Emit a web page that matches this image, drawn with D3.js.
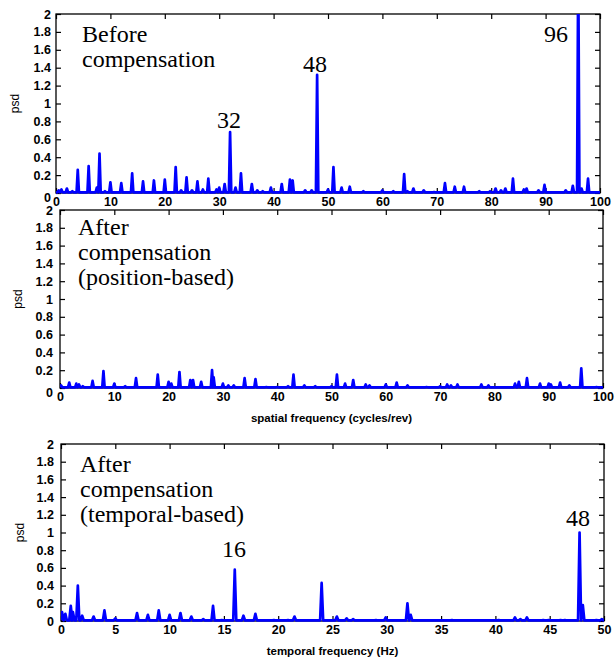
<!DOCTYPE html>
<html><head><meta charset="utf-8">
<script src="https://cdn.jsdelivr.net/npm/d3@7"></script>
<style>body{margin:0;background:#fff} svg{display:block}</style>
</head><body><svg id="c" width="615" height="660"></svg>
<script>
// ---------- data ----------
const yTicks = [0, 0.2, 0.4, 0.6, 0.8, 1, 1.2, 1.4, 1.6, 1.8, 2];
const spatialTicks = [0, 10, 20, 30, 40, 50, 60, 70, 80, 90, 100];
const temporalTicks = [0, 5, 10, 15, 20, 25, 30, 35, 40, 45, 50];
const baseLevel = 0.008;

const beforeFreq = [0.5,1,2,3,4,6,7.5,8,9,10,12,14,16,18,20,22,23,24,25,26,27,28,29.5,30,31,32,33,34,36,37,38,39.5,41.5,43,43.5,45.8,47,48,50,51,52.5,54,56.5,60,62,64,64.6,65.7,67.6,69.5,71.5,73.3,75,77.8,79.8,80.8,81.8,82.6,84,86,86.5,88.7,89.8,93.7,95,96,96.6,97.8];
const beforePsd  = [0.03,0.04,0.05,0.02,0.26,0.30,0.06,0.44,0.02,0.12,0.11,0.22,0.13,0.14,0.15,0.29,0.03,0.175,0.03,0.13,0.04,0.16,0.04,0.06,0.10,0.68,0.06,0.22,0.10,0.03,0.02,0.06,0.10,0.15,0.14,0.03,0.03,1.32,0.04,0.29,0.06,0.07,0.02,0.03,0.02,0.21,0.02,0.05,0.03,0.01,0.11,0.07,0.07,0.02,0.02,0.05,0.03,0.05,0.16,0.04,0.05,0.03,0.09,0.03,0.08,2.6,0.05,0.16];

const positionFreq = [0.2,1.7,3,3.5,4.2,6,8,10,12,14,18,20,20.5,22,24,24.5,26,28,28.3,30,31,32,34,36,38,40,42,43,45,47,50,51,52.5,54,56.3,57,60,62,64,67.5,70,71.3,72,73.2,77.6,78.9,83.8,84.5,86,88.4,90,90.4,92.1,93.8,96,98.8];
const positionPsd  = [0.03,0.06,0.05,0.04,0.02,0.08,0.19,0.05,0.02,0.11,0.15,0.07,0.05,0.18,0.09,0.09,0.07,0.20,0.12,0.05,0.03,0.03,0.11,0.10,0.01,0.01,0.02,0.15,0.03,0.02,0.02,0.15,0.05,0.09,0.04,0.03,0.04,0.06,0.03,0.01,0.02,0.04,0.03,0.04,0.04,0.03,0.05,0.07,0.11,0.05,0.05,0.04,0.06,0.03,0.22,0.01];

const temporalFreq = [0.1,0.4,0.9,1.1,1.55,1.95,3,4,5,7,8,9,10,11,12,13.1,14,14.8,16,16.8,17.9,19.6,20.9,21.5,24,25.4,26.3,26.9,29,29.9,31.9,32.2,36,40.3,41.8,42.3,42.9,44.4,44.9,46,46.4,47.75,48.05,49.3,49.8];
const temporalPsd  = [0.10,0.08,0.17,0.10,0.40,0.06,0.05,0.12,0.03,0.09,0.07,0.12,0.07,0.09,0.05,0.02,0.17,0.01,0.58,0.06,0.08,0.01,0.01,0.05,0.43,0.05,0.03,0.02,0.01,0.04,0.20,0.07,0.01,0.01,0.04,0.02,0.04,0.01,0.01,0.01,0.01,1.0,0.18,0.01,0.02];

// ---------- layout ----------
const panels = [
  {x0:56, x1:600, top:14, bottom:193, xmax:100, xticks:spatialTicks, freq:beforeFreq, psd:beforePsd, w:0.22,
   ypad:5, zeroShift:4, psdX:15, title:null,
   notes:[{t:"Before", x:82, y:42}, {t:"compensation", x:82, y:67},
          {t:"32", x:229, y:128, a:"middle"}, {t:"48", x:315, y:72, a:"middle"}, {t:"96", x:556, y:42, a:"middle"}]},
  {x0:60, x1:603, top:210, bottom:388, xmax:100, xticks:spatialTicks, freq:positionFreq, psd:positionPsd, w:0.22,
   ypad:7, zeroShift:4, psdX:18, title:{t:"spatial frequency (cycles/rev)", y:422},
   notes:[{t:"After", x:78, y:235}, {t:"compensation", x:78, y:260}, {t:"(position-based)", x:78, y:285}]},
  {x0:61, x1:604, top:444, bottom:621, xmax:50, xticks:temporalTicks, freq:temporalFreq, psd:temporalPsd, w:0.14,
   ypad:7, zeroShift:0, psdX:20, title:{t:"temporal frequency (Hz)", y:655},
   notes:[{t:"After", x:80, y:472}, {t:"compensation", x:80, y:497}, {t:"(temporal-based)", x:80, y:522},
          {t:"16", x:234, y:557, a:"middle"}, {t:"48", x:578, y:526, a:"middle"}]}
];

const svg = d3.select("#c");
const sans = "'Liberation Sans', Arial, Helvetica, sans-serif";
const serif = "'Liberation Serif', 'Times New Roman', Times, serif";

panels.forEach((p, i) => {
  const x = d3.scaleLinear().domain([0, p.xmax]).range([p.x0, p.x1]);
  const y = d3.scaleLinear().domain([0, 2]).range([p.bottom, p.top]);
  const g = svg.append("g");

  // frame
  g.append("rect").attr("x", p.x0).attr("y", p.top)
    .attr("width", p.x1 - p.x0).attr("height", p.bottom - p.top)
    .attr("fill", "none").attr("stroke", "#000").attr("stroke-width", 1.3);

  // axes with inward ticks
  const ax = g.append("g").attr("transform", `translate(0,${p.bottom})`)
    .call(d3.axisBottom(x).tickValues(p.xticks).tickFormat(d3.format("d")).tickSizeInner(-5).tickSizeOuter(0).tickPadding(4));
  const axT = g.append("g").attr("transform", `translate(0,${p.top})`)
    .call(d3.axisTop(x).tickValues(p.xticks).tickFormat("").tickSizeInner(-5).tickSizeOuter(0));
  const ay = g.append("g").attr("transform", `translate(${p.x0},0)`)
    .call(d3.axisLeft(y).tickValues(yTicks).tickFormat(d => d3.format("")(+d.toFixed(1))).tickSizeInner(-5).tickSizeOuter(0).tickPadding(p.ypad));
  const ayR = g.append("g").attr("transform", `translate(${p.x1},0)`)
    .call(d3.axisRight(y).tickValues(yTicks).tickFormat("").tickSizeInner(-5).tickSizeOuter(0));
  [ax, axT, ay, ayR].forEach(a => {
    a.select(".domain").remove();
    a.selectAll("line").attr("stroke", "#000").attr("stroke-width", 1.2);
    a.selectAll("text").attr("font-family", sans).attr("font-weight", "bold").attr("font-size", 12.5).attr("fill", "#000");
  });
  ay.selectAll(".tick").filter(d => d === 0).select("text").attr("dy", (0.32) + "em").attr("y", p.zeroShift);

  // spectrum line
  const cid = "clip" + i;
  svg.append("clipPath").attr("id", cid).append("rect")
    .attr("x", p.x0).attr("y", p.top).attr("width", p.x1 - p.x0).attr("height", p.bottom - p.top + 3);
  const pts = [[0, baseLevel]];
  p.freq.forEach((f, k) => {
    pts.push([Math.max(0, f - p.w), baseLevel], [f, p.psd[k]], [Math.min(p.xmax, f + p.w), baseLevel]);
  });
  pts.push([p.xmax, baseLevel]);
  const line = d3.line().x(d => x(d[0])).y(d => y(d[1]));
  g.append("path").datum(pts).attr("d", line).attr("clip-path", `url(#${cid})`)
    .attr("fill", "none").attr("stroke", "#0000ff").attr("stroke-width", 2.7).attr("stroke-linejoin", "round");

  // psd label
  g.append("text").attr("transform", `translate(${p.psdX + 4},${(p.top + p.bottom) / 2}) rotate(-90)`)
    .attr("text-anchor", "middle").attr("font-family", sans).attr("font-size", 12).text("psd");

  // axis title
  if (p.title) {
    g.append("text").attr("x", (p.x0 + p.x1) / 2).attr("y", p.title.y)
      .attr("text-anchor", "middle").attr("font-family", sans).attr("font-weight", "bold").attr("font-size", 11.5).text(p.title.t);
  }

  // annotations
  p.notes.forEach(n => {
    g.append("text").attr("x", n.x).attr("y", n.y).attr("text-anchor", n.a || "start")
      .attr("font-family", serif).attr("font-size", 24).attr("fill", "#000").text(n.t);
  });
});
</script></body></html>
